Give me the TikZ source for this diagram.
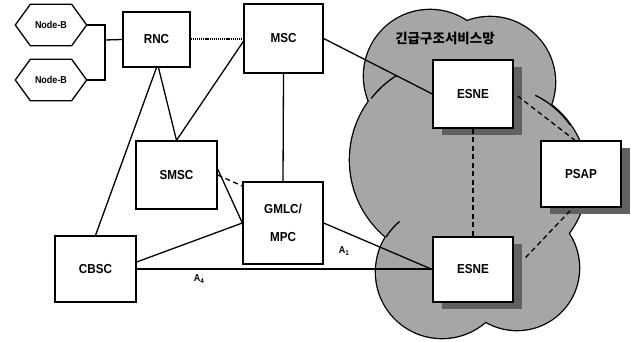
\documentclass[tikz,border=0pt]{standalone}
\usepackage{fontspec}
\setmainfont{Liberation Sans}
\newfontfamily\lblfont{Liberation Sans}[FakeStretch=0.9]
\newfontfamily\krfont{Noto Sans CJK KR}
\usetikzlibrary{shadows}
\begin{document}
\begin{tikzpicture}[x=1pt,y=-1pt,
  box/.style={draw, line width=1.3pt, fill=white, inner sep=0pt,
    font=\lblfont\bfseries\fontsize{13}{15}\selectfont, align=center},
  shd/.style={drop shadow={shadow xshift=9pt, shadow yshift=-7pt, fill=black!62, opacity=1}},
  hexb/.style={inner sep=0pt, minimum width=71pt, minimum height=41pt,
    font=\lblfont\bfseries\fontsize{10}{12}\selectfont},
  conn/.style={line width=1.3pt},
  dashconn/.style={line width=1.3pt, dash pattern=on 5pt off 3.5pt},
  dotconn/.style={line width=2pt, dash pattern=on 1.2pt off 0.9pt},
  lbl/.style={font=\lblfont\bfseries\fontsize{10}{12}\selectfont, inner sep=0pt}
]
\useasboundingbox (0,0) rectangle (631,342);

% cloud (emergency service network)
\foreach \cx/\cy/\r in {430/76/66, 490/82/65, 450/160/100, 495/178/92, 517/268/62, 442/272/66}
  \draw[line width=2.6pt] (\cx,\cy) circle[radius=\r];
\foreach \cx/\cy/\r in {430/76/66, 490/82/65, 450/160/100, 495/178/92, 517/268/62, 442/272/66}
  \fill[black!35] (\cx,\cy) circle[radius=\r];
\draw[conn] (450,160) ++(218:100) arc[start angle=218, end angle=238, radius=100];
\draw[conn] (495,178) ++(-64:92) arc[start angle=-64, end angle=-35, radius=92];
\draw[conn] (442,272) ++(212:66) arc[start angle=212, end angle=230, radius=66];
\node[font=\krfont\bfseries\fontsize{13.5}{15}\selectfont, inner sep=0pt] (title) at (445,38) {긴급구조서비스망};

% Node-B hexagons
\node[hexb] (nb1) at (51,25) {Node-B};
\node[hexb] (nb2) at (51,80) {Node-B};
\foreach \n in {nb1,nb2}
  \draw[conn] ([xshift=15pt]\n.north west) -- ([xshift=-15pt]\n.north east) -- (\n.east)
    -- ([xshift=-15pt]\n.south east) -- ([xshift=15pt]\n.south west) -- (\n.west) -- cycle;

% boxes
\node[box, minimum width=67pt, minimum height=55pt] (rnc) at (156.5,39.5) {RNC};
\node[box, minimum width=79pt, minimum height=69pt] (msc) at (283.5,38.5) {MSC};
\node[box, minimum width=81pt, minimum height=68pt] (smsc) at (176.5,175) {SMSC};
\node[box, minimum width=80pt, minimum height=82pt,
  font=\lblfont\bfseries\fontsize{13}{28}\selectfont] (gmlc) at (283,223) {GMLC/\\MPC};
\node[box, minimum width=81pt, minimum height=66pt] (cbsc) at (95.5,269) {CBSC};
\node[box, shd, minimum width=80pt, minimum height=68pt] (esne1) at (473,94) {ESNE};
\node[box, shd, minimum width=80pt, minimum height=65pt] (esne2) at (473,269.5) {ESNE};
\node[box, shd, minimum width=80pt, minimum height=66pt] (psap) at (581,174) {PSAP};

% connectors
\coordinate (jt) at (105,40);
\draw[conn] (nb1.east) -| (jt) |- (nb2.east);
\draw[conn] (jt) -- (rnc.west);
\draw[dotconn] (rnc.east) -- (rnc.east -| msc.west);
\draw[conn] (rnc.south) -- (cbsc.north);
\draw[conn] ([xshift=2pt]rnc.south) -- (smsc.north);
\draw[conn] ([yshift=-3pt]msc.west) -- (smsc.north);
\draw[conn] (msc.south) -- (gmlc.north);
\draw[conn] ([yshift=6pt]smsc.east) -- (gmlc.west);
\draw[dashconn] (smsc.east) -- ([yshift=37pt]gmlc.west);
\draw[conn] ([yshift=7pt]cbsc.east) -- (gmlc.west);
\draw[conn] (cbsc.east) -- (cbsc.east -| esne2.west);
\node[lbl] (a4) at (199,279) {A\textsubscript{4}};
\draw[conn] (gmlc.east) -- (esne2.west);
\node[lbl] (a1) at (344,251) {A\textsubscript{1}};
\draw[conn] (msc.east) -- (esne1.west);
\draw[dashconn] (esne1.south) -- (esne2.north);
\draw[dashconn] ([xshift=4pt,yshift=-2pt]esne1.east) -- ([xshift=-6pt]psap.north);
\draw[dashconn] ([xshift=12pt,yshift=12pt]esne2.east) -- ([xshift=-8pt]psap.south);
\end{tikzpicture}
\end{document}
